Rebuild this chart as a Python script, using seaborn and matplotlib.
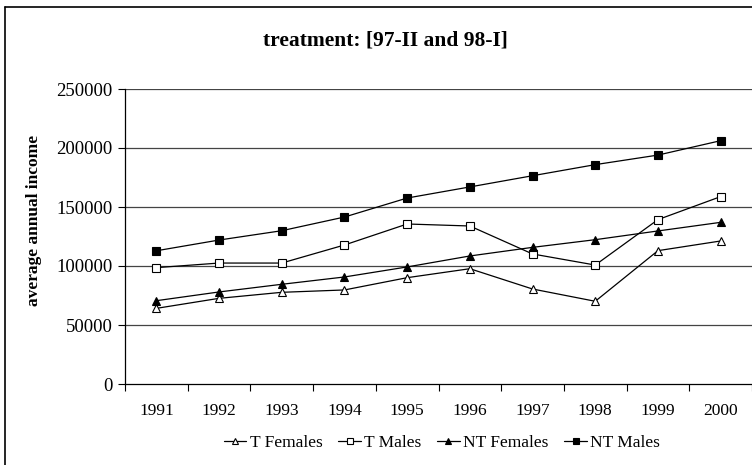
import numpy as np
import pandas as pd
import seaborn as sns
import matplotlib
matplotlib.use("Agg")
import matplotlib.pyplot as plt
from matplotlib.lines import Line2D

years = [1991, 1992, 1993, 1994, 1995, 1996, 1997, 1998, 1999, 2000]
t_females = [64100, 72600, 77700, 79700, 90100, 97700, 80500, 70100, 113000, 121200]
t_males = [98600, 102500, 102500, 117800, 135600, 133900, 110200, 100800, 139300, 158800]
nt_females = [70600, 78000, 84500, 90700, 99200, 108500, 115800, 122300, 129700, 137000]
nt_males = [112900, 122000, 129900, 141500, 157600, 167000, 176500, 185900, 194000, 206200]
series_names = ["T Females", "T Males", "NT Females", "NT Males"]
y_ticks = [0, 50000, 100000, 150000, 200000, 250000]

sns.set_theme(style="white")
plt.rcParams["font.family"] = ["Liberation Serif", "DejaVu Serif"]
plt.rcParams["text.color"] = "black"
plt.rcParams["axes.labelcolor"] = "black"
plt.rcParams["xtick.color"] = "black"
plt.rcParams["ytick.color"] = "black"

df = pd.concat([
    pd.DataFrame({"year": years, "income": vals, "series": name})
    for name, vals in zip(series_names, [t_females, t_males, nt_females, nt_males])
])

fig = plt.figure(figsize=(7.52, 4.65), dpi=100)
ax = fig.add_axes([125/752, 1-384/465, 1-125/752, (384-89)/465])

styles = {
    "T Females": dict(marker="^", mfc="white"),
    "T Males": dict(marker="s", mfc="white"),
    "NT Females": dict(marker="^", mfc="black"),
    "NT Males": dict(marker="s", mfc="black"),
}

for yv in y_ticks[1:]:
    ax.axhline(yv, color="#444444", lw=0.9, zorder=0)

handles = []
for name in series_names:
    sub = df[df["series"] == name]
    st = styles[name]
    sns.lineplot(data=sub, x="year", y="income", ax=ax, color="black", lw=0.9,
                 marker=st["marker"], markersize=6, markerfacecolor=st["mfc"],
                 markeredgecolor="black", markeredgewidth=0.8, legend=False, zorder=3)
    handles.append(Line2D([0], [0], color="black", lw=0.9, marker=st["marker"],
                          markersize=5, markerfacecolor=st["mfc"], markeredgecolor="black",
                          markeredgewidth=0.8, label=name))

ax.set_xlim(years[0]-0.5, years[-1]+0.5)
ax.set_ylim(0, 250000)
ax.set_yticks(y_ticks)
ax.set_yticklabels([str(v) for v in y_ticks])
ax.set_xticks(years)
ax.set_xticklabels([str(y) for y in years])
ax.set_xticks([y+0.5 for y in [years[0]-1] + years], minor=True)
ax.tick_params(axis="x", which="major", length=0, pad=14, labelsize=12.5)
ax.tick_params(axis="x", which="minor", length=5, width=0.8, direction="out", color="black", bottom=True)
ax.tick_params(axis="y", which="major", length=5, width=0.8, direction="out", left=True,
               labelsize=13.5, pad=4)
ax.set_xlabel("")
ax.set_ylabel("average annual income", fontsize=12.5, fontweight="bold")
ax.yaxis.set_label_coords(-0.132, 0.553)
for s in ["top", "right"]:
    ax.spines[s].set_visible(False)
for s in ["left", "bottom"]:
    ax.spines[s].set_color("black")
    ax.spines[s].set_linewidth(0.9)
ax.set_facecolor("white")

fig.text(385/752, 1-40/465, "treatment: [97-II and 98-I]", ha="center", va="center",
         fontsize=15.5, fontweight="bold")

fig.legend(handles=handles, loc="center", bbox_to_anchor=(442/752, 1-443/465), ncol=4,
           frameon=False, fontsize=12.5, handlelength=1.3, handletextpad=0.2,
           columnspacing=0.9)

# outer frame (left and top edges visible)
fig.add_artist(Line2D([5/752, 5/752], [0, 1-7/465], color="black", lw=1.2, transform=fig.transFigure))
fig.add_artist(Line2D([5/752, 1], [1-7/465, 1-7/465], color="black", lw=1.2, transform=fig.transFigure))

fig.savefig("out.png", dpi=100)
